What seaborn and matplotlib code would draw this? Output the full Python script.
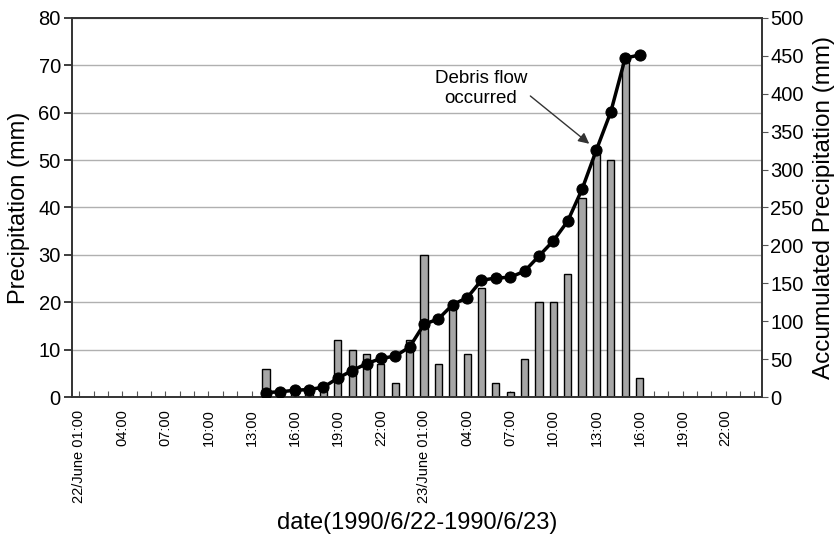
import matplotlib
matplotlib.use("Agg")
import matplotlib.pyplot as plt
import seaborn as sns
import pandas as pd

# Hour index: 1 = 22/June 01:00 ... 24 = 22/June 24:00, 25 = 23/June 01:00 ...
rain_hours = list(range(14, 41))
rain_mm = [6, 1, 2, 1, 3, 12, 10, 9, 7, 3, 12, 30, 7, 19, 9, 23, 3, 1, 8,
           20, 20, 26, 42, 52, 50, 71, 4]
accum_mm = [6, 7, 9, 10, 13, 25, 35, 44, 51, 54, 66, 96, 103, 122, 131, 154,
            157, 158, 166, 186, 206, 232, 274, 326, 376, 447, 451]

tick_hours = list(range(1, 48, 3))
tick_labels = ["22/June 01:00", "04:00", "07:00", "10:00", "13:00", "16:00",
               "19:00", "22:00", "23/June 01:00", "04:00", "07:00", "10:00",
               "13:00", "16:00", "19:00", "22:00"]

sns.set_theme(style="white")
plt.rcParams['font.family'] = ['Liberation Sans', 'DejaVu Sans']
plt.rcParams['text.color'] = 'black'
plt.rcParams['axes.labelcolor'] = 'black'
plt.rcParams['xtick.labelcolor'] = 'black'
plt.rcParams['ytick.labelcolor'] = 'black'

df_bar = pd.DataFrame({"hour": rain_hours, "rain": rain_mm})
df_acc = pd.DataFrame({"hour": rain_hours, "acc": accum_mm})

fig = plt.figure(figsize=(8.37, 5.41), dpi=100)
ax = fig.add_axes([0.086, 0.266, 0.824, 0.701])

sns.barplot(data=df_bar, x="hour", y="rain", native_scale=True, width=0.5,
            color="#a6a6a6", edgecolor="black", linewidth=1.0, saturation=1,
            ax=ax, zorder=2)
ax.set_xlim(0.5, 48.5)
ax.set_ylim(0, 80)
ax.set_yticks(range(0, 81, 10))
ax.yaxis.grid(True, color="#b0b0b0", linewidth=1.0)
ax.set_axisbelow(True)
ax.set_xticks(tick_hours)
ax.set_xticklabels(tick_labels, rotation=90, fontsize=10.5)
ax.set_xticks(range(1, 49), minor=True)
ax.tick_params(axis="x", which="both", direction="in", length=4, width=0.8,
               color="#555555", bottom=True, pad=9, labelcolor="black")
ax.tick_params(axis="y", labelsize=14.5, left=False, pad=2, labelcolor="black")
ax.set_ylabel("Precipitation (mm)", fontsize=17, labelpad=6, color="black")
ax.set_xlabel("date(1990/6/22-1990/6/23)", fontsize=17, labelpad=7,
              color="black")
for s in ax.spines.values():
    s.set_color("#333333")
    s.set_linewidth(1.2)

ax2 = ax.twinx()
sns.lineplot(data=df_acc, x="hour", y="acc", color="black", linewidth=2.5,
             marker="o", markersize=8, markeredgecolor="black", ax=ax2,
             zorder=3)
ax2.set_ylim(0, 500)
ax2.set_yticks(range(0, 501, 50))
ax2.tick_params(axis="y", labelsize=14.5, right=True, direction="out",
                length=4, width=0.8, color="#555555", pad=2,
                labelcolor="black")
ax2.set_ylabel("Accumulated Precipitation (mm)", fontsize=17.5, labelpad=7,
               color="black")
ax2.set_xlim(0.5, 48.5)
ax2.grid(False)
for s in ax2.spines.values():
    s.set_color("#333333")
    s.set_linewidth(1.2)

ax2.text(28.95, 407, "Debris flow\noccurred", ha="center", va="center",
         fontsize=13.5, linespacing=1.2, color="black")
ax2.annotate("", xy=(36.5, 334), xytext=(32.4, 397),
             arrowprops=dict(arrowstyle="-|>", color="#333333", lw=1.0,
                             mutation_scale=16, shrinkA=0, shrinkB=0))

fig.savefig("out.png", dpi=100)
